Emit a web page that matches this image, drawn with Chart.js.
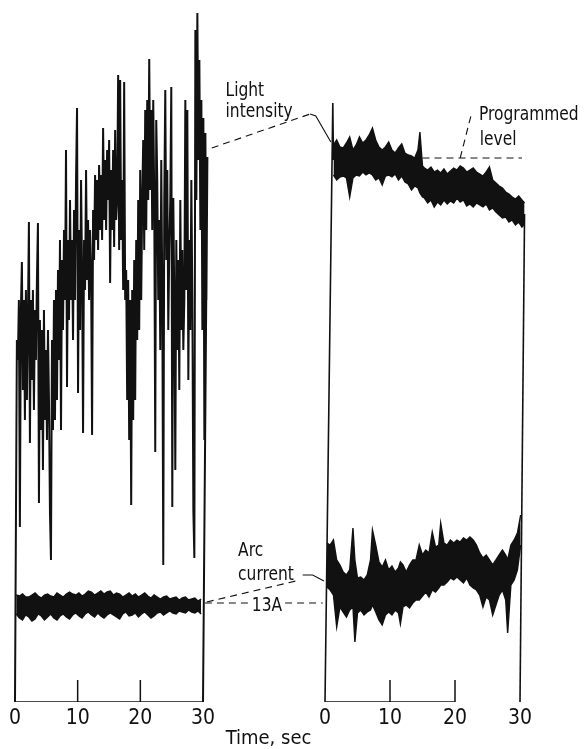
<!DOCTYPE html>
<html>
<head>
<meta charset="utf-8">
<script src="https://cdn.jsdelivr.net/npm/chart.js@4.4.0/dist/chart.umd.min.js"></script>
<style>
  html, body { margin: 0; padding: 0; background: #fff; }
  #wrap { position: relative; width: 585px; height: 749px; }
</style>
</head>
<body>
<div id="wrap"><canvas id="chart"></canvas></div>
<script>
// ---- recorder traces (chart units, 0 = pen at rest) ----
const tickSeconds = [0, 10, 20, 30];
const recordStart = 0;
const recordEnd = 30;

// left record, light intensity: one reading every 0.16 s from 0.3 s
const lightLeftStart = 0.3;
const lightLeftStep = 0.16;
const lightLeft = [
  362, 342, 402, 175, 392, 440, 312, 402, 282, 412,
  302, 382, 480, 259, 402, 322, 412, 292, 392, 342,
  422, 479, 199, 382, 272, 372, 232, 392, 282, 352,
  262, 372, 302, 189, 142, 362, 272, 402, 282, 412,
  302, 432, 342, 462, 272, 442, 372, 472, 402, 552,
  315, 462, 382, 502, 402, 462, 362, 492, 402, 522,
  594, 309, 472, 372, 522, 432, 269, 462, 412, 532,
  422, 482, 402, 472, 432, 267, 492, 442, 527, 462,
  522, 452, 537, 472, 527, 462, 574, 482, 542, 472,
  552, 502, 562, 419, 532, 472, 552, 455, 572, 482,
  502, 627, 452, 622, 462, 522, 412, 620, 402, 432,
  302, 422, 262, 402, 197, 412, 282, 442, 302, 462,
  362, 502, 372, 532, 402, 502, 562, 452, 592, 472,
  602, 502, 643, 512, 592, 472, 602, 502, 250, 582,
  522, 402, 482, 352, 542, 412, 137, 502, 612, 442,
  532, 372, 452, 502, 615, 195, 504, 402, 232, 462,
  352, 442, 312, 502, 372, 452, 352, 402, 602, 412,
  592, 322, 462, 372, 522, 402, 192, 144, 672, 502,
  689, 542, 642, 472, 602, 372, 584, 262, 569, 402,
  545
];

// left record, arc current band edges: one reading every 0.5 s from 0.2 s
const arcLeftStart = 0.2;
const arcLeftStep = 0.5;
const arcLeftHigh = [
  107, 106, 108, 105, 105, 107, 109, 106, 104, 107,
  108, 106, 105, 109, 107, 105, 108, 110, 108, 107,
  109, 106, 108, 111, 110, 107, 109, 111, 108, 110,
  111, 107, 109, 108, 105, 107, 109, 106, 108, 105,
  107, 109, 106, 104, 107, 105, 103, 105, 106, 103,
  104, 105, 102, 104, 105, 102, 103, 104, 101, 103
];
const arcLeftLow = [
  88, 84, 82, 87, 85, 81, 83, 88, 86, 82,
  85, 88, 84, 82, 86, 88, 85, 83, 87, 89,
  86, 84, 88, 90, 87, 85, 89, 86, 84, 87,
  89, 87, 85, 83, 88, 90, 86, 87, 89, 85,
  88, 90, 87, 84, 86, 89, 90, 87, 89, 91,
  89, 88, 91, 90, 89, 92, 90, 89, 91, 88
];

// right record, light intensity band edges
const lightRightTimes = [
  1.3, 1.8, 2.3, 2.8, 3.3, 3.8, 4.3, 4.8, 5.3, 5.8,
  6.3, 6.8, 7.3, 7.8, 8.3, 8.8, 9.3, 9.8, 10.3, 10.8,
  11.3, 11.8, 12.3, 12.8, 13.3, 13.8, 14.3, 14.6, 15.0, 15.3,
  15.8, 16.3, 16.8, 17.3, 17.8, 18.3, 18.8, 19.3, 19.8, 20.3,
  20.8, 21.3, 21.8, 22.3, 22.8, 23.3, 23.8, 24.3, 24.8, 25.3,
  25.8, 26.3, 26.8, 27.3, 27.8, 28.3, 28.8, 29.3, 29.8, 30.3,
  30.7
];
const lightRightHigh = [
  557, 562, 555, 554, 559, 565, 552, 557, 565, 559,
  562, 567, 574, 562, 555, 552, 555, 560, 552, 549,
  554, 558, 549, 547, 546, 544, 552, 570, 536, 534,
  532, 535, 530, 532, 529, 533, 528, 531, 534, 532,
  536, 534, 530, 532, 534, 530, 528, 526, 530, 535,
  522, 519, 516, 514, 510, 508, 505, 503, 506, 502,
  499
];
const lightRightLow = [
  527, 522, 525, 526, 524, 505, 524, 527, 526, 530,
  527, 529, 527, 522, 524, 517, 526, 527, 525, 528,
  522, 526, 520, 518, 512, 516, 514, 509, 505, 504,
  499, 502, 495, 500, 497, 502, 498, 501, 499, 504,
  500, 502, 496, 498, 495, 499, 497, 495, 498, 492,
  494, 490, 487, 484, 485, 480, 482, 477, 480, 475,
  478
];

// right record, arc current band edges
const arcRightTimes = [
  0.3, 0.8, 1.3, 1.8, 2.3, 2.8, 3.3, 3.8, 4.3, 4.6,
  5.0, 5.5, 6.0, 6.5, 7.0, 7.3, 7.8, 8.3, 8.8, 9.3,
  9.8, 10.3, 10.8, 11.3, 11.6, 12.0, 12.5, 13.0, 13.5, 14.0,
  14.5, 15.0, 15.5, 16.0, 16.5, 17.0, 17.5, 17.8, 18.3, 18.8,
  19.3, 19.8, 20.3, 20.8, 21.3, 21.8, 22.3, 22.8, 23.3, 23.8,
  24.3, 24.8, 25.3, 25.8, 26.3, 26.8, 27.3, 27.8, 28.1, 28.6,
  29.1, 29.6, 30.1
];
const arcRightHigh = [
  159, 157, 162, 142, 137, 130, 127, 132, 174, 142,
  124, 125, 122, 127, 142, 172, 157, 140, 135, 142,
  132, 136, 130, 134, 140, 137, 130, 137, 142, 142,
  157, 147, 152, 149, 170, 155, 157, 179, 159, 157,
  162, 159, 162, 160, 164, 162, 165, 162, 157, 149,
  144, 147, 142, 137, 142, 147, 152, 147, 142, 157,
  162, 169, 187
];
const arcRightLow = [
  115, 112, 107, 75, 95, 90, 85, 92, 95, 60,
  89, 92, 87, 90, 92, 97, 90, 82, 77, 87,
  90, 87, 92, 89, 78, 95, 97, 94, 99, 102,
  102, 106, 110, 105, 112, 110, 114, 117, 117, 120,
  124, 122, 125, 122, 119, 124, 117, 114, 112, 107,
  95, 105, 102, 87, 97, 107, 112, 102, 69, 117,
  122, 132, 157
];

// right record, pen swing at switch-on and switch-off
const penRiseTimes = [0, 1.2, 1.3];
const penRiseValues = [0, 599, 542];
const penFallTimes = [30.7, 30];
const penFallValues = [488, 0];

const programmedLevel = 544;
const arcSetPoint = 99; // 13 A
const rightBaselineEnd = 20;

// ---- layout ----
const FONT = "'Liberation Sans Narrow', 'DejaVu Sans Condensed', 'Liberation Sans', sans-serif";
const INK = '#111';
const PLOT_W = 537;
const LEFT_PX = [15, 203];   // where 0 s and 30 s fall on the left record
const RIGHT_PX = [325, 520]; // same for the right record

function axisRange(px) {
  const k = (px[1] - px[0]) / 30;
  return { min: -px[0] / k, max: (PLOT_W - px[0]) / k, k: k };
}
const leftRange = axisRange(LEFT_PX);
const rightRange = axisRange(RIGHT_PX);
function rightToLeft(t) {
  return (RIGHT_PX[0] + t * rightRange.k - LEFT_PX[0]) / leftRange.k;
}
const tickPositions = tickSeconds.concat(tickSeconds.map(rightToLeft));
const tickLabels = tickSeconds.concat(tickSeconds).map(String);

function pts(times, values) {
  return values.map((v, i) => ({ x: times[i], y: v }));
}
function sampled(start, step, values) {
  return values.map((v, i) => ({ x: +(start + i * step).toFixed(3), y: v }));
}

const lightLeftData = [{ x: recordStart, y: 0 }]
  .concat(sampled(lightLeftStart, lightLeftStep, lightLeft))
  .concat([{ x: recordEnd, y: 0 }]);

function trace(data, axis, extra) {
  return Object.assign({
    data: data, xAxisID: axis, yAxisID: 'y',
    borderColor: INK, backgroundColor: INK, borderWidth: 1.4,
    pointRadius: 0, tension: 0, fill: false
  }, extra || {});
}

const datasets = [
  trace(lightLeftData, 'x', { borderWidth: 2 }),
  trace(sampled(arcLeftStart, arcLeftStep, arcLeftHigh), 'x'),
  trace(sampled(arcLeftStart, arcLeftStep, arcLeftLow), 'x', { fill: '-1' }),
  trace(pts(lightRightTimes, lightRightHigh), 'x2'),
  trace(pts(lightRightTimes, lightRightLow), 'x2', { fill: '-1' }),
  trace(pts(arcRightTimes, arcRightHigh), 'x2'),
  trace(pts(arcRightTimes, arcRightLow), 'x2', { fill: '-1' }),
  trace(pts(penRiseTimes, penRiseValues), 'x2', { borderWidth: 1.6 }),
  trace(pts(penFallTimes, penFallValues), 'x2', { borderWidth: 1.6 }),
  trace([{ x: recordStart, y: 0 }, { x: recordEnd, y: 0 }], 'x', { borderWidth: 1.6 }),
  trace([{ x: recordStart, y: 0 }, { x: rightBaselineEnd, y: 0 }], 'x2', { borderWidth: 1.6 })
];

// labels and leader lines, in chart units of the named axis
const notes = [
  { axis: 'x', text: 'Light', at: [33.6, 606] },
  { axis: 'x', text: 'intensity', at: [33.6, 585] },
  { axis: 'x', text: 'Arc', at: [35.6, 146] },
  { axis: 'x', text: 'current', at: [35.6, 122] },
  { axis: 'x', text: '13A', at: [40.2, 91], align: 'center' },
  { axis: 'x2', text: 'Programmed', at: [23.7, 582] },
  { axis: 'x2', text: 'level', at: [23.8, 557] }
];
const leaders = [
  { axis: 'x', dash: true, line: [[31.4, 554], [47.1, 588]] },
  { axis: 'x', dash: false, line: [[47.1, 588], [48.0, 586], [50.4, 560]] },
  { axis: 'x', dash: true, line: [[30.6, 100], [45.5, 122]] },
  { axis: 'x', dash: false, line: [[45.9, 127], [47.5, 127], [49.3, 121]] },
  { axis: 'x', dash: true, line: [[30.3, arcSetPoint], [37.4, arcSetPoint]] },
  { axis: 'x', dash: true, line: [[43.1, arcSetPoint], [49.1, arcSetPoint]] },
  { axis: 'x2', dash: true, line: [[15, programmedLevel], [30.3, programmedLevel]] },
  { axis: 'x2', dash: true, line: [[20.8, programmedLevel], [22.6, 590]] }
];
const NOTE_SQUEEZE = 0.86; // the print uses a narrow face

const recorderMarks = {
  id: 'recorderMarks',
  afterDatasetsDraw(chart) {
    const { ctx, scales } = chart;
    const y = scales.y;
    const y0 = y.getPixelForValue(0);
    ctx.save();
    ctx.strokeStyle = INK;
    ctx.fillStyle = INK;

    // short time marks standing on each base line
    ctx.lineWidth = 1.5;
    ['x', 'x2'].forEach(id => {
      [10, 20].forEach(t => {
        const px = scales[id].getPixelForValue(t);
        ctx.beginPath();
        ctx.moveTo(px, y0);
        ctx.lineTo(px, y0 - 22);
        ctx.stroke();
      });
    });

    ctx.lineWidth = 1.1;
    leaders.forEach(l => {
      ctx.setLineDash(l.dash ? [7, 5] : []);
      ctx.beginPath();
      l.line.forEach((p, i) => {
        const px = scales[l.axis].getPixelForValue(p[0]);
        const py = y.getPixelForValue(p[1]);
        if (i === 0) ctx.moveTo(px, py); else ctx.lineTo(px, py);
      });
      ctx.stroke();
    });
    ctx.setLineDash([]);

    ctx.font = '20px ' + FONT;
    ctx.textBaseline = 'alphabetic';
    notes.forEach(n => {
      ctx.save();
      ctx.translate(scales[n.axis].getPixelForValue(n.at[0]), y.getPixelForValue(n.at[1]));
      ctx.scale(NOTE_SQUEEZE, 1);
      ctx.textAlign = n.align || 'left';
      ctx.fillText(n.text, 0, 0);
      ctx.restore();
    });
    ctx.restore();
  }
};

new Chart(document.getElementById('chart'), {
  type: 'line',
  data: { datasets: datasets },
  plugins: [recorderMarks],
  options: {
    responsive: true,
    maintainAspectRatio: false,
    animation: false,
    events: [],
    layout: { padding: { left: 0, right: 585 - PLOT_W, top: 2, bottom: 0 } },
    plugins: { legend: { display: false }, tooltip: { enabled: false } },
    scales: {
      x: {
        type: 'linear',
        min: leftRange.min,
        max: leftRange.max,
        grid: { display: false, drawTicks: false },
        border: { display: false },
        afterBuildTicks: (scale) => {
          scale.ticks = tickPositions.map(v => ({ value: v }));
        },
        afterFit: (scale) => { scale.height = 47; },
        ticks: {
          autoSkip: false,
          maxRotation: 0,
          padding: 4,
          color: INK,
          font: { family: FONT, size: 21 },
          callback: (value, index) => tickLabels[index]
        },
        title: {
          display: true,
          text: 'Time, sec',
          color: INK,
          font: { family: FONT, size: 20, lineHeight: 1 },
          padding: { top: 0, bottom: 0 }
        }
      },
      x2: {
        type: 'linear',
        display: false,
        min: rightRange.min,
        max: rightRange.max
      },
      y: {
        type: 'linear',
        display: false,
        min: 0,
        max: 700
      }
    }
  }
});
</script>
</body>
</html>
